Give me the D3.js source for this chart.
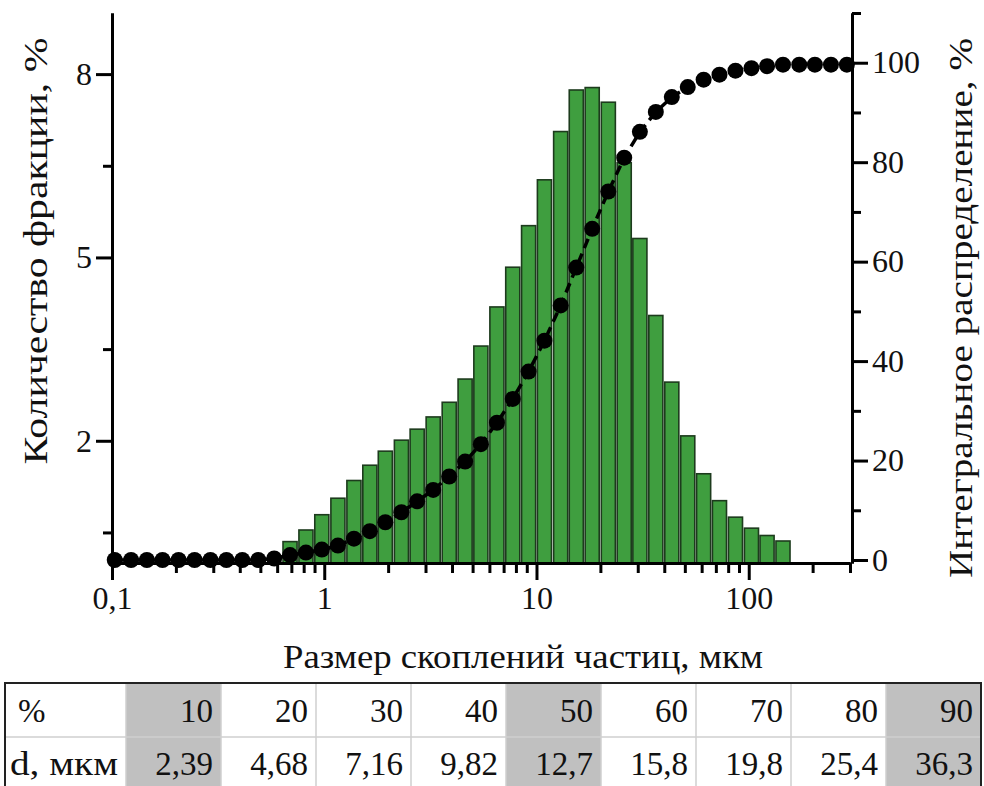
<!DOCTYPE html>
<html>
<head>
<meta charset="utf-8">
<script src="https://cdn.jsdelivr.net/npm/d3@7"></script>
<style>
    body { margin: 0; background: #fff; }
</style>
</head>
<body>
<div id="chart"></div>
<script>
// particle size bins, um (bin centres)
const sizes = [0.103, 0.123, 0.146, 0.173, 0.206, 0.245, 0.291, 0.346, 0.411, 0.489, 0.581,
    0.690, 0.820, 0.974, 1.16, 1.38, 1.64, 1.94, 2.31, 2.74, 3.26, 3.88, 4.61, 5.47, 6.51,
    7.73, 9.18, 10.9, 13.0, 15.4, 18.3, 21.8, 25.9, 30.7, 36.5, 43.4, 51.6, 61.3, 72.8,
    86.6, 103, 122, 145, 173, 205, 244, 290];

// fraction, % (left axis)
const fraction = [0, 0, 0, 0, 0, 0, 0, 0, 0, 0, 0,
    0.35, 0.54, 0.79, 1.06, 1.35, 1.60, 1.83, 2.01, 2.19, 2.39, 2.63, 3.01, 3.55, 4.19,
    4.84, 5.52, 6.27, 7.06, 7.74, 7.78, 7.54, 6.55, 5.31, 4.05, 2.96, 2.08, 1.46, 1.02,
    0.75, 0.57, 0.45, 0.36, 0, 0, 0, 0];

// cumulative distribution, % (right axis)
const cumulative = [0, 0, 0, 0, 0, 0, 0, 0, 0, 0, 0.3,
    1.0, 1.5, 2.1, 2.9, 4.3, 5.8, 7.6, 9.6, 11.8, 14.1, 16.8, 19.8, 23.3, 27.6,
    32.4, 37.9, 44.1, 51.2, 58.8, 66.6, 74.1, 80.9, 86.1, 90.1, 93.1, 95.1, 96.6, 97.6,
    98.4, 98.9, 99.3, 99.6, 99.6, 99.6, 99.6, 99.6];

// axis ticks
const xMajor = [0.1, 1, 10, 100];
const xMinor = [0.2, 0.3, 0.4, 0.5, 0.6, 0.7, 0.8, 0.9, 2, 3, 4, 5, 6, 7, 8, 9,
    20, 30, 40, 50, 60, 70, 80, 90, 200, 300];
const leftMajor = [2, 5, 8];
const leftMinor = [0.5, 3.5, 6.5];
const rightMajor = [0, 20, 40, 60, 80, 100];
const rightMinor = [10, 30, 50, 70, 90, 110];

// percentile table
const pctRow = ["10", "20", "30", "40", "50", "60", "70", "80", "90"];
const dRow = ["2,39", "4,68", "7,16", "9,82", "12,7", "15,8", "19,8", "25,4", "36,3"];
const shaded = ["10", "50", "90"];

const width = 984, height = 786;
const plot = {left: 112, right: 850, top: 13, bottom: 563};
const FONT = "'Liberation Serif', Tinos, 'Times New Roman', 'DejaVu Serif', 'Noto Serif', serif";

let svg = d3.select("#chart").append("svg")
    .attr("width", width)
    .attr("height", height)
    .attr("font-family", FONT);

// scales
let x = d3.scaleLog().domain([0.1, 300]).range([plot.left, plot.right]);
let yLeft = d3.scaleLinear().domain([0, 9]).range([plot.bottom, plot.top]);
let yRight = d3.scaleLinear().domain([-0.6, 110]).range([plot.bottom, plot.top]);

let fmt = d => String(d).replace(".", ",");

// bars
let bins = sizes.map((s, i) => ({size: s, frac: fraction[i], cum: cumulative[i], i: i}));
let stepPx = x(sizes[1]) - x(sizes[0]);
let barW = stepPx * 0.86;

svg.append("g")
    .attr("class", "bars")
    .selectAll("rect")
    .data(bins.filter(d => d.frac > 0))
    .join("rect")
    .attr("x", d => x(d.size) - barW / 2)
    .attr("width", barW)
    .attr("y", d => yLeft(d.frac))
    .attr("height", d => yLeft(0) - yLeft(d.frac))
    .attr("fill", "#3f9e3f")
    .attr("stroke", "#1d3b1d")
    .attr("stroke-width", 1.6);

// cumulative dashed line + dots
let line = d3.line()
    .x(d => x(d.size))
    .y(d => yRight(d.cum));

svg.append("path")
    .datum(bins)
    .attr("d", line)
    .attr("fill", "none")
    .attr("stroke", "#000")
    .attr("stroke-width", 3.5)
    .attr("stroke-dasharray", "10,6");

svg.append("g")
    .attr("class", "dots")
    .selectAll("circle")
    .data(bins)
    .join("circle")
    .attr("cx", d => x(d.size))
    .attr("cy", d => yRight(d.cum))
    .attr("r", 8)
    .attr("fill", "#000");

// axes
function styleAxis(g) {
    g.attr("font-family", FONT).attr("font-size", 32);
    g.selectAll("path.domain").attr("stroke", "#000").attr("stroke-width", 3);
    g.selectAll(".tick line").attr("stroke", "#000").attr("stroke-width", 3);
    g.selectAll("text").attr("fill", "#111");
}

// x axis
svg.append("g")
    .attr("transform", `translate(0,${plot.bottom})`)
    .call(d3.axisBottom(x).tickValues(xMinor).tickSize(10).tickFormat("").tickSizeOuter(0))
    .call(styleAxis);
svg.append("g")
    .attr("transform", `translate(0,${plot.bottom})`)
    .call(d3.axisBottom(x).tickValues(xMajor).tickSize(17).tickPadding(6).tickFormat(fmt).tickSizeOuter(0))
    .call(styleAxis);

// left axis
svg.append("g")
    .attr("transform", `translate(${plot.left},0)`)
    .call(d3.axisLeft(yLeft).tickValues(leftMinor).tickSize(9).tickFormat("").tickSizeOuter(0))
    .call(styleAxis);
svg.append("g")
    .attr("transform", `translate(${plot.left},0)`)
    .call(d3.axisLeft(yLeft).tickValues(leftMajor).tickSize(16).tickPadding(4).tickFormat(fmt).tickSizeOuter(0))
    .call(styleAxis);

// right axis
svg.append("g")
    .attr("transform", `translate(${plot.right + 2},0)`)
    .call(d3.axisRight(yRight).tickValues(rightMinor).tickSize(9).tickFormat("").tickSizeOuter(0))
    .call(styleAxis);
svg.append("g")
    .attr("transform", `translate(${plot.right + 2},0)`)
    .call(d3.axisRight(yRight).tickValues(rightMajor).tickSize(16).tickPadding(4).tickFormat(fmt).tickSizeOuter(0))
    .call(styleAxis);

// axis titles (stretched to the extents of the original lettering)
svg.append("text")
    .attr("x", 523)
    .attr("y", 668)
    .attr("text-anchor", "middle")
    .attr("font-size", 33)
    .attr("fill", "#111")
    .attr("textLength", 480)
    .attr("lengthAdjust", "spacingAndGlyphs")
    .text("Размер скоплений частиц, мкм");

svg.append("text")
    .attr("transform", "translate(47,251) rotate(-90)")
    .attr("text-anchor", "middle")
    .attr("font-size", 33)
    .attr("fill", "#111")
    .attr("textLength", 427)
    .attr("lengthAdjust", "spacingAndGlyphs")
    .text("Количество фракции, %");

svg.append("text")
    .attr("transform", "translate(972,308) rotate(-90)")
    .attr("text-anchor", "middle")
    .attr("font-size", 33)
    .attr("fill", "#111")
    .attr("textLength", 540)
    .attr("lengthAdjust", "spacingAndGlyphs")
    .text("Интегральное распределение, %");

// table
let table = {left: 5, right: 981, top: 683, mid: 737, bottom: 790, firstCol: 126};
let colX = d3.scaleBand().domain(pctRow).range([table.firstCol, table.right]);

let tg = svg.append("g").attr("class", "table").attr("font-size", 33).attr("fill", "#111");

tg.selectAll("rect.shade")
    .data(shaded)
    .join("rect")
    .attr("class", "shade")
    .attr("x", d => colX(d))
    .attr("y", table.top)
    .attr("width", colX.bandwidth())
    .attr("height", table.bottom - table.top)
    .attr("fill", "#c0c0c0");

// inner grid lines
tg.selectAll("line.col")
    .data(pctRow)
    .join("line")
    .attr("class", "col")
    .attr("x1", d => colX(d))
    .attr("x2", d => colX(d))
    .attr("y1", table.top)
    .attr("y2", table.bottom)
    .attr("stroke", "#cfcfcf")
    .attr("stroke-width", 1.5);

tg.append("line")
    .attr("x1", table.left).attr("x2", table.right)
    .attr("y1", table.mid).attr("y2", table.mid)
    .attr("stroke", "#cfcfcf")
    .attr("stroke-width", 1.5);

// outer border
tg.append("path")
    .attr("d", `M${table.left},${table.bottom}V${table.top}H${table.right}V${table.bottom}`)
    .attr("fill", "none")
    .attr("stroke", "#222")
    .attr("stroke-width", 2);

// row headers
tg.append("text").attr("x", 18).attr("y", 722).text("%");
tg.append("text").attr("x", 10).attr("y", 775)
    .attr("textLength", 108)
    .attr("lengthAdjust", "spacingAndGlyphs")
    .text("d, мкм");

tg.selectAll("text.pct")
    .data(pctRow)
    .join("text")
    .attr("class", "pct")
    .attr("x", d => colX(d) + colX.bandwidth() - 8)
    .attr("y", 722)
    .attr("text-anchor", "end")
    .text(d => d);

tg.selectAll("text.dval")
    .data(dRow)
    .join("text")
    .attr("class", "dval")
    .attr("x", (d, i) => colX(pctRow[i]) + colX.bandwidth() - 8)
    .attr("y", 775)
    .attr("text-anchor", "end")
    .text(d => d);
</script>
</body>
</html>
